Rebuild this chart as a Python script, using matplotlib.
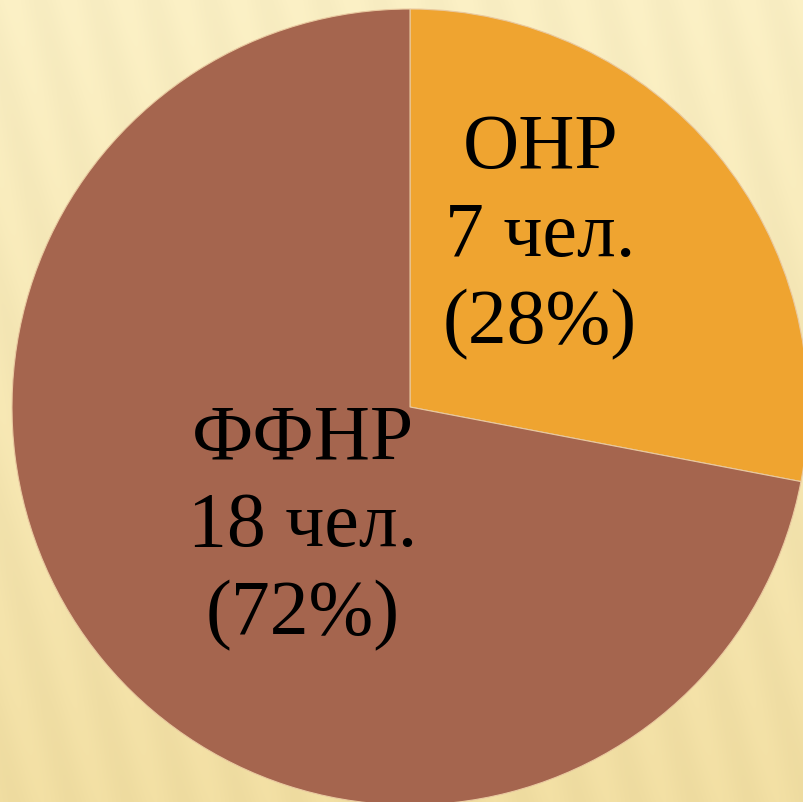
import numpy as np
import matplotlib
matplotlib.use("Agg")
import matplotlib.pyplot as plt

# data
categories = ["ОНР", "ФФНР"]
counts = [7, 18]
percents = [28, 72]
colors = ["#EFA430", "#A5654E"]

W, H, DPI = 804, 803, 100
fig = plt.figure(figsize=(W / DPI, H / DPI), dpi=DPI)

# background: pale cream with faint stripes
bg = fig.add_axes([0, 0, 1, 1], zorder=0)
yy, xx = np.mgrid[0:H, 0:W]
t = yy / H
base_top = np.array([252, 241, 198]) / 255
base_bot = np.array([243, 224, 164]) / 255
img = base_top[None, None, :] * (1 - t[..., None]) + base_bot[None, None, :] * t[..., None]
stripe = 0.5 + 0.5 * np.sin((xx + 0.25 * (H - yy)) / 9.0)
img = img - 0.018 * stripe[..., None]
bg.imshow(np.clip(img, 0, 1), aspect="auto", extent=[0, 1, 0, 1])
bg.axis("off")

ax = fig.add_axes([0, 0, 1, 1], zorder=1)
ax.patch.set_alpha(0)
ax.pie(counts, colors=colors, startangle=90, counterclock=False,
       radius=1, wedgeprops=dict(edgecolor="#E9C9A0", linewidth=0.8))

r_px, cx, cy = 398, 410, 408
ax.set_aspect("auto")
ax.set_xlim(-cx / r_px, (W - cx) / r_px)
ax.set_ylim(-(H - cy) / r_px, cy / r_px)
ax.axis("off")

label_pos = [(0.327, 0.43), (-0.27, -0.30)]
for name, n, p, (x, y) in zip(categories, counts, percents, label_pos):
    ax.text(x, y, f"{name}\n{n} чел.\n({p}%)", ha="center", va="center",
            fontsize=56, family="Liberation Serif", color="black",
            linespacing=1.3)

fig.savefig("out.png", dpi=DPI)
